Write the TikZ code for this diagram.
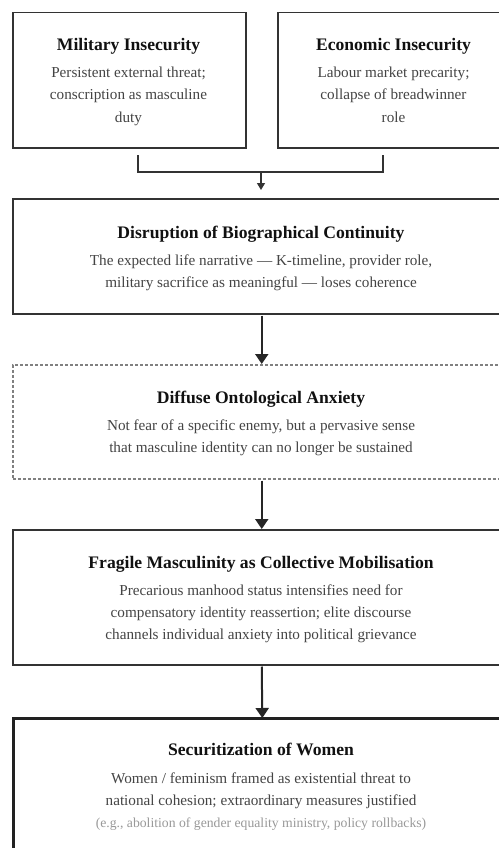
\documentclass[tikz,border=0pt]{standalone}
\usepackage{fontspec}
\setmainfont{Liberation Serif}
\usetikzlibrary{arrows.meta,positioning}
\definecolor{ttl}{HTML}{111111}
\definecolor{bdy}{HTML}{444444}
\definecolor{note}{HTML}{999999}
\definecolor{edge}{HTML}{333333}
\definecolor{dedge}{HTML}{808080}
\begin{document}
\begin{tikzpicture}[x=1pt,y=-1pt,
  box/.style={draw=edge,line width=1.5pt,rectangle,inner sep=0pt,anchor=north west},
  dbox/.style={draw=dedge,line width=1.5pt,dash pattern=on 3pt off 2pt,rectangle,inner sep=0pt,anchor=north west},
  fbox/.style={draw=black!87,line width=2.6pt,rectangle,inner sep=0pt,anchor=north west},
  ttlnode/.style={anchor=base,inner sep=0pt,text=ttl,font=\fontsize{17.6}{22}\selectfont\bfseries},
  bdynode/.style={anchor=base,inner sep=0pt,text=bdy,font=\fontsize{15.2}{22}\selectfont},
  notenode/.style={anchor=base,inner sep=0pt,text=note,font=\fontsize{13.7}{22}\selectfont},
  flow/.style={draw=black!85,line width=2pt,-{Triangle[width=13pt,length=10pt]}},
  brk/.style={draw=edge,line width=1.2pt}]
\useasboundingbox (0,0) rectangle (498,848);
\fill[white] (0,0) rectangle (498,848);

% top boxes
\node[box,minimum width=233pt,minimum height=135pt] (mil) at (12,12) {};
\node[box,minimum width=233pt,minimum height=135pt] (eco) at (277,12) {};
\node[ttlnode] (milt) at (128.5,51) {Military Insecurity};
\node[bdynode] (mil1) at (128.5,78) {Persistent external threat;};
\node[bdynode] (mil2) at (128.5,100) {conscription as masculine};
\node[bdynode] (mil3) at (128.5,122) {duty};
\node[ttlnode] (ecot) at (393.5,51) {Economic Insecurity};
\node[bdynode] (eco1) at (393.5,78) {Labour market precarity;};
\node[bdynode] (eco2) at (393.5,100) {collapse of breadwinner};
\node[bdynode] (eco3) at (393.5,122) {role};

% disruption
\node[box,minimum width=498pt,minimum height=115pt] (dis) at (12,198) {};
\node[ttlnode] (dist) at (261,238) {Disruption of Biographical Continuity};
\node[bdynode] (dis1) at (261,265) {The expected life narrative — K-timeline, provider role,};
\node[bdynode] (dis2) at (261,287) {military sacrifice as meaningful — loses coherence};

% anxiety
\node[dbox,minimum width=498pt,minimum height=114pt] (anx) at (12,364) {};
\node[ttlnode] (anxt) at (261,403) {Diffuse Ontological Anxiety};
\node[bdynode] (anx1) at (261,430) {Not fear of a specific enemy, but a pervasive sense};
\node[bdynode] (anx2) at (261,452) {that masculine identity can no longer be sustained};

% fragile masculinity
\node[box,minimum width=498pt,minimum height=135pt] (frag) at (12,529) {};
\node[ttlnode] (fragt) at (261,568) {Fragile Masculinity as Collective Mobilisation};
\node[bdynode] (frag1) at (261,595) {Precarious manhood status intensifies need for};
\node[bdynode] (frag2) at (261,617) {compensatory identity reassertion; elite discourse};
\node[bdynode] (frag3) at (261,639) {channels individual anxiety into political grievance};

% securitization
\node[fbox,minimum width=498pt,minimum height=150pt] (sec) at (12,717) {};
\node[ttlnode] (sect) at (261,755) {Securitization of Women};
\node[bdynode] (sec1) at (261,783) {Women / feminism framed as existential threat to};
\node[bdynode] (sec2) at (261,805) {national cohesion; extraordinary measures justified};
\node[notenode] (sec3) at (261,827) {(e.g., abolition of gender equality ministry, policy rollbacks)};

% bracket connector
\coordinate (bl) at (138,155);
\coordinate (br) at (383,155);
\coordinate (bm) at (261,172);
\coordinate (bt) at (261,190);
\draw[brk] (bl) |- (bm) -| (br);
\draw[brk,-{Triangle[width=8pt,length=7pt]}] (bm) -- (bt);

% flow arrows
\draw[flow] ([yshift=-1pt]dis.south) -- (anx.north);
\draw[flow] ([yshift=-1pt]anx.south) -- (frag.north);
\draw[flow] ([yshift=-1pt]frag.south) -- ([yshift=-1pt]sec.north);
\end{tikzpicture}
\end{document}
